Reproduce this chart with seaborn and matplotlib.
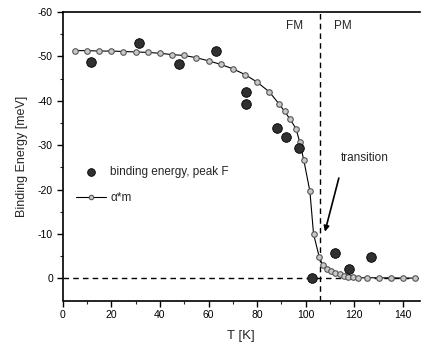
import matplotlib
matplotlib.use("Agg")
import matplotlib.pyplot as plt
import seaborn as sns
import pandas as pd
import numpy as np

# Data
scatter_T = [11.5, 31.2, 47.9, 63.0, 75.3, 75.3, 88.0, 92.0, 97.2, 102.7, 112.2, 117.7, 126.9]
scatter_E = [-48.7, -53.0, -48.3, -51.2, -42.0, -39.2, -33.9, -31.8, -29.4, 0.0, -5.7, -2.0, -4.8]

line_T = [5, 10, 15, 20, 25, 30, 35, 40, 45, 50, 55, 60, 65, 70, 75, 80, 85, 89, 91.3, 93.6,
          96, 97.5, 99.2, 101.7, 103.2, 105.5, 107, 108.7, 110.5, 112.2, 114, 115.6, 117.3,
          119.4, 121.4, 125, 130, 135, 140, 145]
line_E = [-51.3, -51.3, -51.2, -51.2, -51.1, -51.0, -50.9, -50.7, -50.4, -50.2, -49.7, -49.0,
          -48.2, -47.2, -45.9, -44.2, -42.0, -39.3, -37.6, -35.8, -33.7, -30.7, -26.6, -19.6,
          -10.0, -4.9, -2.9, -2.2, -1.6, -1.3, -0.9, -0.6, -0.3, -0.2, -0.05, -0.15, -0.1,
          -0.1, -0.05, -0.05]

x_ticks = [0, 20, 40, 60, 80, 100, 120, 140]
y_ticks = [-60, -50, -40, -30, -20, -10, 0]
T_transition = 106

sns.set_theme(style="ticks")
plt.rcParams['font.family'] = ['Liberation Sans', 'DejaVu Sans']
plt.rcParams['axes.unicode_minus'] = False

fig = plt.figure(figsize=(4.21, 3.47), dpi=100)
ax = fig.add_axes([62.7/421, 1 - 300.5/347, (420 - 62.7)/421, (300.5 - 12)/347])

df_s = pd.DataFrame({"T": scatter_T, "E": scatter_E})
df_l = pd.DataFrame({"T": line_T, "E": line_E})

ax.axhline(0, color='black', lw=1.0, ls=(0, (4, 3)), zorder=1)
ax.axvline(T_transition, color='black', lw=1.0, ls=(0, (4, 3)), zorder=1)

sns.lineplot(data=df_l, x="T", y="E", ax=ax, color='black', lw=0.8, marker='o',
             markersize=4, markerfacecolor='#c8c8c8', markeredgecolor='#555555',
             markeredgewidth=0.8, label='α*m', zorder=3, sort=False)
sns.scatterplot(data=df_s, x="T", y="E", ax=ax, s=48, color='#303030',
                edgecolor='black', linewidth=0.6, label='binding energy, peak F', zorder=4)

ax.set_xlim(0, 147)
ax.set_ylim(5, -60)
ax.set_xticks(x_ticks)
ax.set_yticks(y_ticks)
ax.set_xticks(np.arange(10, 147, 20), minor=True)
ax.set_yticks(np.arange(-55, 5, 10), minor=True)
ax.tick_params(axis='both', which='major', direction='out', length=4, width=1,
               labelsize=7.5, colors='black', pad=3)
ax.tick_params(axis='both', which='minor', direction='out', length=2.5, width=0.8)

for s in ['left', 'bottom', 'top']:
    ax.spines[s].set_visible(True)
    ax.spines[s].set_color('black')
    ax.spines[s].set_linewidth(1.2)
ax.spines['right'].set_visible(False)

ax.set_xlabel('T [K]', fontsize=9.5, labelpad=7)
ax.set_ylabel('Binding Energy [meV]', fontsize=9, labelpad=7)

ax.text(95.4, -56.8, 'FM', ha='center', va='center', fontsize=8.5)
ax.text(115.1, -56.8, 'PM', ha='center', va='center', fontsize=8.5)
ax.text(124.1, -27.0, 'transition', ha='center', va='center', fontsize=8.5)
ax.annotate('', xy=(107.6, -9.9), xytext=(113.9, -23.2),
            arrowprops=dict(arrowstyle='-|>', color='black', lw=1.2, mutation_scale=8))

handles, labels = ax.get_legend_handles_labels()
order = [labels.index('binding energy, peak F'), labels.index('α*m')]
ax.legend([handles[i] for i in order], [labels[i] for i in order],
          loc='upper left', bbox_to_anchor=(76/421, 1 - 166/347),
          bbox_transform=fig.transFigure, frameon=False, fontsize=8.5,
          handlelength=2.5, handletextpad=0.4, labelspacing=1.2,
          borderpad=0, borderaxespad=0, markerscale=0.8)

fig.savefig('out.png', dpi=100)
